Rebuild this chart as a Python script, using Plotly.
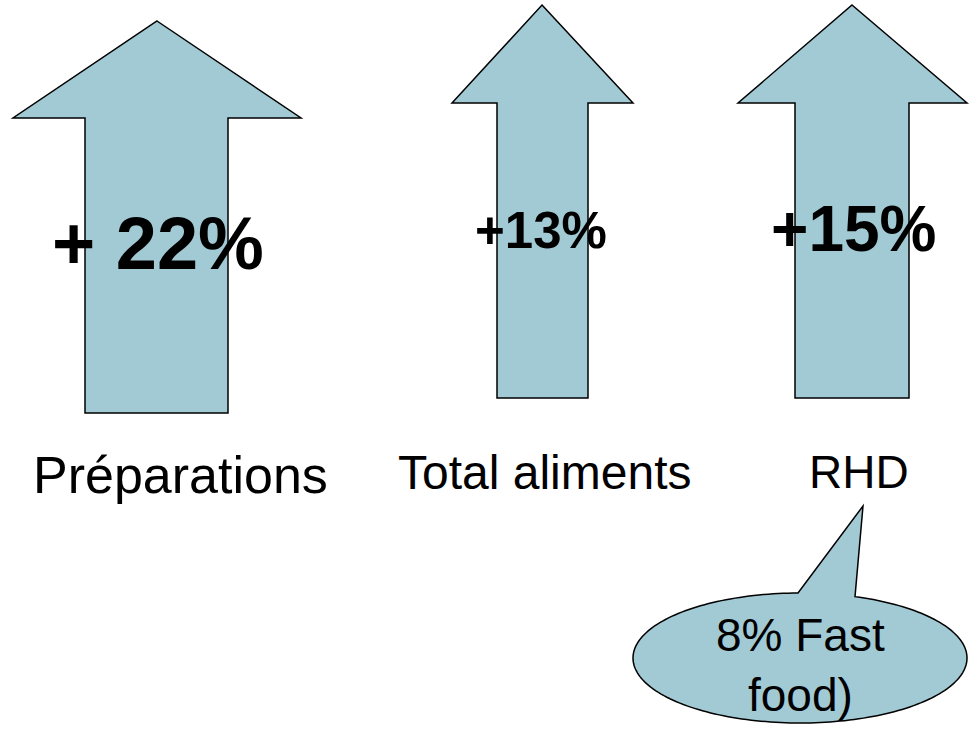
import numpy as np
import plotly.graph_objects as go

# ---- content ----
categories = ["Préparations", "Total aliments", "RHD"]
changes = ["+ 22%", "+13%", "+15%"]
callout_text = "8% Fast<br>food)"

# ---- layout geometry (pixels on a 972x729 canvas) ----
W, H = 972, 729
arrow_tip_x = [157, 542, 852]
arrow_tip_y = [21, 5, 5]
arrow_head_base_y = [118, 103, 103]
arrow_head_left = [13, 452, 738]
arrow_head_right = [301, 633, 967]
arrow_shaft_left = [85, 497, 795]
arrow_shaft_right = [228, 588, 909]
arrow_bottom = [413, 398, 398]

change_x = [158, 541, 853]
change_y = [243, 230, 229]
change_size = [74, 51, 64]

label_x = [180, 544, 859]
label_y = [475, 472, 472]
label_size = [52, 48, 46]

ell_cx, ell_cy, ell_rx, ell_ry = 800, 658, 167, 65
tail_tip = (863, 506)
tail_base_left_x, tail_base_right_x = 798, 855

fill_col = "#A2CAD4"
line_col = "#000000"

fig = go.Figure()
shapes = []
for i in range(3):
    pts = [
        (arrow_tip_x[i], arrow_tip_y[i]),
        (arrow_head_right[i], arrow_head_base_y[i]),
        (arrow_shaft_right[i], arrow_head_base_y[i]),
        (arrow_shaft_right[i], arrow_bottom[i]),
        (arrow_shaft_left[i], arrow_bottom[i]),
        (arrow_shaft_left[i], arrow_head_base_y[i]),
        (arrow_head_left[i], arrow_head_base_y[i]),
    ]
    path = "M " + " L ".join(f"{x},{y}" for x, y in pts) + " Z"
    shapes.append(dict(type="path", path=path, xref="x", yref="y",
                       fillcolor=fill_col, line=dict(color=line_col, width=1.5),
                       layer="below"))

# callout ellipse with tail
def ang_for_x(x):
    c = (x - ell_cx) / ell_rx
    s = -np.sqrt(max(0.0, 1 - c * c))
    return np.arctan2(s, c)

tR = ang_for_x(tail_base_right_x)
tL = ang_for_x(tail_base_left_x) + 2 * np.pi
ts = np.linspace(tR, tL, 200)
ex = ell_cx + ell_rx * np.cos(ts)
ey = ell_cy + ell_ry * np.sin(ts)
cpath = f"M {tail_tip[0]},{tail_tip[1]} " + " ".join(
    f"L {x:.2f},{y:.2f}" for x, y in zip(ex, ey)) + " Z"
shapes.append(dict(type="path", path=cpath, xref="x", yref="y",
                   fillcolor=fill_col, line=dict(color=line_col, width=1.5),
                   layer="below"))

annotations = []
for i in range(3):
    annotations.append(dict(x=change_x[i], y=change_y[i], xref="x", yref="y",
                            text=f"<b>{changes[i]}</b>", showarrow=False,
                            font=dict(family="Liberation Sans, Arial", size=change_size[i], color="black"),
                            xanchor="center", yanchor="middle"))
    annotations.append(dict(x=label_x[i], y=label_y[i], xref="x", yref="y",
                            text=categories[i], showarrow=False,
                            font=dict(family="Liberation Sans, Arial", size=label_size[i], color="black"),
                            xanchor="center", yanchor="middle"))
annotations.append(dict(x=ell_cx, y=665, xref="x", yref="y", text=callout_text,
                        showarrow=False, align="center",
                        font=dict(family="Liberation Sans, Arial", size=46, color="black"),
                        xanchor="center", yanchor="middle"))

fig.update_layout(
    width=W, height=H,
    margin=dict(l=0, r=0, t=0, b=0),
    paper_bgcolor="white", plot_bgcolor="white",
    xaxis=dict(range=[0, W], visible=False, fixedrange=True),
    yaxis=dict(range=[H, 0], visible=False, fixedrange=True),
    shapes=shapes, annotations=annotations, showlegend=False,
)
fig.write_html("out.html", config={"displayModeBar": False},
               post_script="document.body.style.margin='0';document.body.style.overflow='hidden';")
